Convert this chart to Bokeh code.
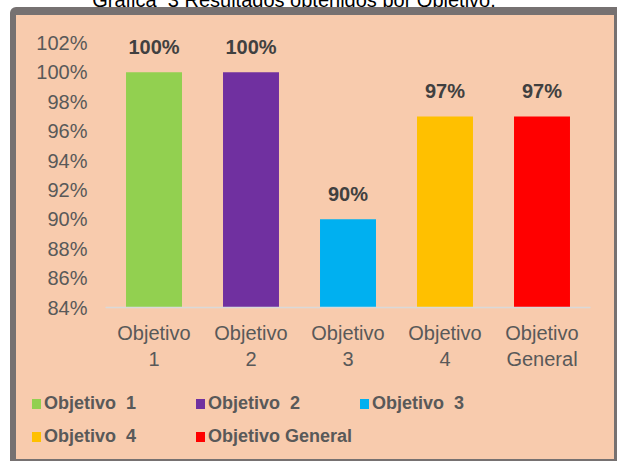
from bokeh.plotting import figure
from bokeh.models import Range1d, FixedTicker, PrintfTickFormatter, Label, Div
from bokeh.layouts import column
from bokeh.embed import file_html
from bokeh.resources import INLINE

# ---- data ----
title_text = "Gráfica  3 Resultados obtenidos por Objetivo."
categories = ["Objetivo\n1", "Objetivo\n2", "Objetivo\n3", "Objetivo\n4", "Objetivo\nGeneral"]
legend_labels = ["Objetivo  1", "Objetivo  2", "Objetivo  3", "Objetivo  4", "Objetivo General"]
values = [100, 100, 90, 97, 97]
colors = ["#92D050", "#7030A0", "#00B0F0", "#FFC000", "#FF0000"]
y_ticks = [84, 86, 88, 90, 92, 94, 96, 98, 100, 102]

# ---- layout constants (page pixels) ----
BOX_L, BOX_T = 10, 7            # outer corner of grey box
BW_L, BW_T, BW_R, BW_B = 6, 8, 3, 2
IN_L, IN_T = BOX_L + BW_L, BOX_T + BW_T   # canvas origin on the page
CW = 598                        # canvas width (box interior)
SPLIT = 383                     # page y where legend strip starts
LEG_BOTTOM = 459
CH = SPLIT - IN_T
PX_PER_PCT = 14.72
Y0, Y1 = 84, 102.3
FL, FR, FB = 105 - IN_L, 590 - IN_L, 307 - IN_T
FT = round(FB - (Y1 - Y0) * PX_PER_PCT)
X0, X1 = 0, len(categories)
PEACH = "#F8CBAD"
GRAY = "#767171"
FONT = "Liberation Sans"
TXT = "#595959"

p = figure(width=CW, height=CH, output_backend="svg", toolbar_location=None,
           x_range=Range1d(X0, X1), y_range=Range1d(Y0, Y1),
           min_border_left=FL, min_border_right=CW - FR,
           min_border_top=FT, min_border_bottom=CH - FB)
p.border_fill_color = PEACH
p.background_fill_color = PEACH
p.outline_line_color = None
p.grid.visible = False

xs = [i + 0.5 for i in range(len(categories))]
bars = p.vbar(x=xs, top=values, bottom=Y0, width=0.577, fill_color=colors, line_color=None)

# y axis
p.yaxis.ticker = FixedTicker(ticks=y_ticks)
p.yaxis.formatter = PrintfTickFormatter(format="%d%%")
p.yaxis.axis_line_color = None
p.yaxis.major_tick_line_color = None
p.yaxis.minor_tick_line_color = None
p.yaxis.major_tick_out = 0
p.yaxis.major_tick_in = 0
p.yaxis.major_label_standoff = 18
p.yaxis.major_label_text_font = FONT
p.yaxis.major_label_text_font_size = "20px"
p.yaxis.major_label_text_color = TXT

# x axis
p.xaxis.ticker = FixedTicker(ticks=xs)
p.xaxis.major_label_overrides = {x: c for x, c in zip(xs, categories)}
p.xaxis.axis_line_color = "#D9D9D9"
p.xaxis.axis_line_width = 1.5
p.xaxis.major_tick_line_color = None
p.xaxis.minor_tick_line_color = None
p.xaxis.major_tick_out = 0
p.xaxis.major_tick_in = 0
p.xaxis.major_label_standoff = 14
p.xaxis.major_label_text_font = FONT
p.xaxis.major_label_text_font_size = "20px"
p.xaxis.major_label_text_color = TXT

# data labels
for x, v in zip(xs, values):
    p.add_layout(Label(x=x, y=v, y_offset=25, text=f"{v}%", text_align="center",
                       text_baseline="alphabetic", text_font=FONT, text_font_size="20px",
                       text_font_style="bold", text_color="#404040"))

# legend strip (HTML, inside the same box)
cells = "".join(
    '<div style="display:flex;align-items:center;height:33px">'
    f'<span style="display:inline-block;width:9px;height:10px;background:{c};'
    'margin-right:3px;flex:none"></span>'
    f'<span style="white-space:pre">{lab}</span></div>'
    for lab, c in zip(legend_labels, colors))
legend_html = (
    '<div style="display:grid;grid-template-columns:164px 164px 164px;'
    f'padding:4px 0 0 16px;font-family:\'{FONT}\';font-size:18px;font-weight:bold;'
    f'color:{TXT};line-height:33px">{cells}</div>')
legend = Div(text=legend_html, width=CW, height=LEG_BOTTOM - SPLIT, margin=0,
             styles={"background-color": PEACH})

# title above the box (only its lower part is visible)
title = Div(text=title_text, width=588, height=BOX_T + 12, margin=(-12, 0, 0, 0),
            styles={"font-family": FONT, "font-size": "20px", "line-height": "24px",
                    "color": "black", "text-align": "center", "overflow": "hidden",
                    "white-space": "pre"})

box = column(p, legend, margin=(0, 0, 0, BOX_L), spacing=0,
             styles={"border-style": "solid", "border-color": GRAY,
                     "border-width": f"{BW_T}px {BW_R}px {BW_B}px {BW_L}px",
                     "border-top-left-radius": "6px", "background-color": PEACH})

root = column(title, box)
open("out.html", "w").write(file_html(root, INLINE))
